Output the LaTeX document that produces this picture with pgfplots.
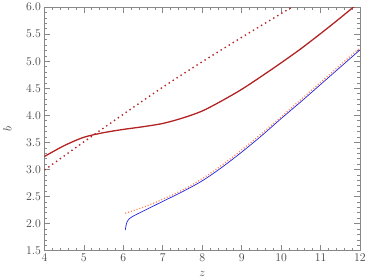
\documentclass[border=0pt]{standalone}
\usepackage{pgfplots}
\pgfplotsset{compat=1.18}
\definecolor{darkred}{HTML}{B22222}
\definecolor{lineblue}{HTML}{2222DD}
\definecolor{coral}{HTML}{FF7F50}
\definecolor{axgray}{HTML}{888888}
\definecolor{txtgray}{HTML}{444444}
\begin{document}
\begin{tikzpicture}
\begin{axis}[
  scale only axis,
  width=320pt, height=247pt,
  xmin=4, xmax=12, ymin=1.5, ymax=6.0,
  xtick={4,5,...,12},
  ytick={1.5,2.0,...,6.0},
  minor x tick num=4,
  minor y tick num=4,
  tick align=inside,
  major tick length=6pt,
  minor tick length=3pt,
  axis line style={axgray, line width=0.8pt},
  every tick/.style={axgray, line width=0.6pt},
  yticklabel style={/pgf/number format/.cd, fixed, fixed zerofill, precision=1},
  tick label style={font=\fontsize{13}{15}\selectfont, text=txtgray},
  label style={font=\fontsize{13}{15}\selectfont, text=txtgray},
  xlabel={$z$}, ylabel={$b$},
  xlabel style={yshift=-3pt},
  ylabel style={yshift=8pt},
]
% solid dark red
\addplot[darkred, line width=1.3pt, smooth] coordinates {
(4.0,3.24) (4.5,3.44) (5.0,3.595) (5.5,3.68) (6.0,3.74) (6.5,3.79)
(7.0,3.85) (7.5,3.95) (8.0,4.08) (8.5,4.27) (9.0,4.48) (9.5,4.72)
(10.0,4.97) (10.5,5.23) (11.0,5.51) (11.5,5.80) (12.0,6.10)};
% dotted dark red line
\addplot[darkred, line width=1.4pt, dash pattern={on 1.4pt off 3.4pt}, smooth] coordinates {
(4.0,2.99) (5.0,3.51) (6.0,4.02) (7.0,4.52) (8.0,4.99) (9.0,5.44)
(10.0,5.88) (10.3,6.01)};
% orange dotted
\addplot[coral, line width=1.3pt, dash pattern={on 1pt off 2pt}, smooth] coordinates {
(6.05,2.19) (6.5,2.30) (7.0,2.45) (7.5,2.62) (8.0,2.83) (8.5,3.08)
(9.0,3.36) (9.5,3.66) (10.0,3.97) (10.5,4.29) (11.0,4.61) (11.5,4.93) (12.0,5.25)};
% blue solid
\addplot[lineblue, line width=0.7pt, smooth] coordinates {
(6.05,1.88) (6.07,1.97) (6.1,2.04) (6.15,2.09) (6.28,2.15) (6.5,2.23)
(7.0,2.41) (7.5,2.59) (8.0,2.79) (8.5,3.04) (9.0,3.32) (9.5,3.62)
(10.0,3.94) (10.5,4.25) (11.0,4.57) (11.5,4.89) (12.0,5.21)};
\end{axis}
% a little white room on the right, as in the reference
\path (current axis.outer east) ++(5pt,0);
\end{tikzpicture}
\end{document}
